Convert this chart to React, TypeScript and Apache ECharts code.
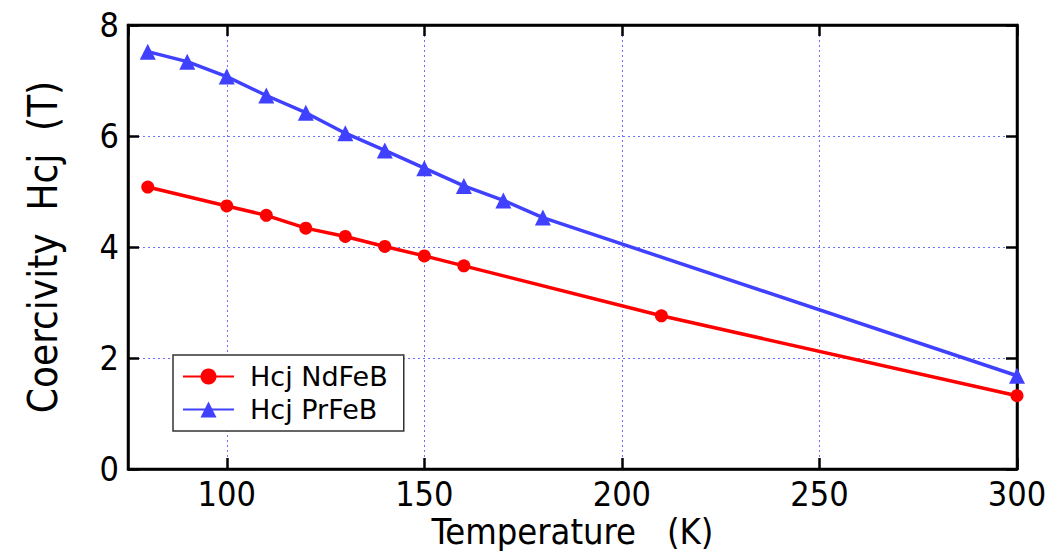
import React, { useEffect, useRef } from "react";
import * as echarts from "echarts";

const temperatureNd = [80, 100, 110, 120, 130, 140, 150, 160, 210, 300];
const hcjNd = [5.08, 4.74, 4.57, 4.34, 4.19, 4.01, 3.84, 3.66, 2.76, 1.32];
const temperaturePr = [80, 90, 100, 110, 120, 130, 140, 150, 160, 170, 180, 300];
const hcjPr = [7.52, 7.34, 7.07, 6.73, 6.42, 6.05, 5.74, 5.42, 5.1, 4.84, 4.53, 1.68];
const seriesNames = ["Hcj NdFeB", "Hcj PrFeB"];
const xName = "Temperature   (K)";
const yName = "Coercivity  Hcj  (T)";

const FONT = "'DejaVu Sans Condensed', 'DejaVu Sans', sans-serif";
const FONT_REG = "'DejaVu Sans', sans-serif";

export default function App() {
  const ref = useRef<HTMLDivElement>(null);
  useEffect(() => {
    if (!ref.current) return;
    const chart = echarts.init(ref.current, null, { renderer: "svg" });
    const gridLine = { show: true, lineStyle: { color: "#7070ff", width: 1, type: [2, 3] as any } };
    const mkLine = () => ({ show: true, onZero: false, lineStyle: { color: "#000", width: 2.5 } });
    const mkTick = () => ({ show: true, inside: true, length: 11, lineStyle: { color: "#000", width: 2.5 } });
    chart.setOption({
      animation: false,
      backgroundColor: "#fff",
      grid: {
        left: 128,
        right: 36,
        top: 25,
        bottom: 82,
        containLabel: false,
        outerBoundsMode: "none",
        show: true,
        borderColor: "#000",
        borderWidth: 2.5,
        backgroundColor: "transparent",
      },
      legend: {
        left: 173,
        top: 355,
        orient: "vertical",
        backgroundColor: "#fff",
        borderColor: "#333",
        borderWidth: 1.5,
        borderRadius: 0,
        padding: [8, 16, 8, 9],
        itemWidth: 51,
        itemHeight: 20,
        itemGap: 6,
        textStyle: { fontFamily: FONT_REG, fontSize: 27, color: "#000", padding: [0, 0, 0, 11] },
        data: seriesNames,
      },
      xAxis: [
        {
          type: "value",
          min: 75,
          max: 300,
          name: xName,
          nameLocation: "middle",
          nameGap: 44,
          nameMoveOverlap: false,
          nameTextStyle: { fontFamily: FONT, fontSize: 36, color: "#000" },
          axisLine: mkLine(),
          axisTick: mkTick(),
          splitLine: gridLine,
          axisLabel: {
            fontFamily: FONT,
            fontSize: 34,
            color: "#000",
            margin: 8,
            showMinLabel: false,
            formatter: (v: number) => (v % 50 === 0 ? String(v) : ""),
          },
        },
        {
          type: "value",
          min: 75,
          max: 300,
          position: "top",
          axisLine: mkLine(),
          axisTick: mkTick(),
          axisLabel: { show: false },
          splitLine: { show: false },
        },
      ],
      yAxis: [
        {
          type: "value",
          min: 0,
          max: 8,
          interval: 2,
          name: yName,
          nameLocation: "middle",
          nameGap: 65,
          nameMoveOverlap: false,
          nameTextStyle: { fontFamily: FONT, fontSize: 40, color: "#000" },
          axisLine: mkLine(),
          axisTick: mkTick(),
          splitLine: gridLine,
          axisLabel: { fontFamily: FONT, fontSize: 34, color: "#000", margin: 9 },
        },
        {
          type: "value",
          min: 0,
          max: 8,
          interval: 2,
          position: "right",
          axisLine: mkLine(),
          axisTick: mkTick(),
          axisLabel: { show: false },
          splitLine: { show: false },
        },
      ],
      series: [
        {
          name: seriesNames[0],
          type: "line",
          data: temperatureNd.map((t, i) => [t, hcjNd[i]]),
          symbol: "circle",
          symbolSize: 13,
          lineStyle: { color: "#ff0000", width: 3.5 },
          itemStyle: { color: "#ff0000" },
        },
        {
          name: seriesNames[1],
          type: "line",
          data: temperaturePr.map((t, i) => [t, hcjPr[i]]),
          symbol: "triangle",
          symbolSize: 16,
          lineStyle: { color: "#4040ff", width: 3.5 },
          itemStyle: { color: "#4040ff" },
        },
      ],
    });
    return () => chart.dispose();
  }, []);
  return (
    <div
      ref={ref}
      style={{ position: "absolute", left: 0, top: 0, width: 1053, height: 551 }}
    />
  );
}
